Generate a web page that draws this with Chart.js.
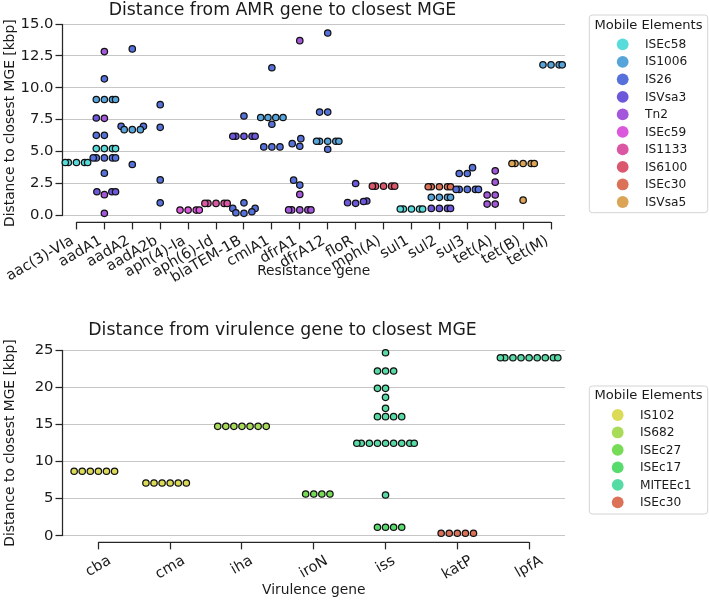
<!DOCTYPE html>
<html><head><meta charset="utf-8">
<script src="https://cdn.jsdelivr.net/npm/chart.js@4.4.1/dist/chart.umd.min.js"></script>
<style>
html,body{margin:0;padding:0;background:#fff;}
#wrap{position:relative;width:709px;height:603px;overflow:hidden;background:#fff;}
.box{position:absolute;left:0;width:709px;}
</style></head><body>
<div id="wrap">
  <div class="box" style="top:0;height:290px"><canvas id="amr" width="709" height="290"></canvas></div>
  <div class="box" style="top:290px;height:313px"><canvas id="vir" width="709" height="313"></canvas></div>
</div>
<script>
// ---------------- DATA ----------------
const amrGenes = ['aac(3)-VIa','aadA1','aadA2','aadA2b','aph(4)-Ia','aph(6)-Id','blaTEM-1B','cmlA1','dfrA1','dfrA12','floR','mph(A)','sul1','sul2','sul3','tet(A)','tet(B)','tet(M)'];
const amrYTicks = [0, 2.5, 5, 7.5, 10, 12.5, 15];
const amrMGEs = ['ISEc58','IS1006','IS26','ISVsa3','Tn2','ISEc59','IS1133','IS6100','ISEc30','ISVsa5'];

// distance (kbp) per gene, for each mobile element
const amr_ISEc58 = {'aac(3)-VIa':[4.13,4.13,4.13,4.13,4.13], 'aadA1':[5.22,5.22,5.22,5.22], 'sul1':[0.47,0.47,0.47,0.47,0.47]};
const amr_IS1006 = {'aadA1':[9.08,9.08,9.08,9.08], 'aadA2':[6.71,6.71,6.71], 'cmlA1':[7.66,7.66,7.66,7.66], 'dfrA12':[5.8,5.8,5.8,5.8,5.8], 'sul2':[1.39,1.39,1.39,1.39], 'tet(M)':[11.8,11.8,11.8,11.8]};
const amr_IS26 = {'aadA1':[10.7,6.26,6.26,4.49,4.49,4.49,4.49,4.49,3.29], 'aadA2':[13.05,6.97,6.97,3.97], 'aadA2b':[8.67,6.89,2.76,0.96], 'blaTEM-1B':[7.78,0.96,0.52,0.52,0.26,0.18,0.13], 'cmlA1':[11.57,7.13,5.35,5.35,5.35], 'dfrA1':[6.0,5.61,5.4,2.74,2.35], 'dfrA12':[14.3,8.09,8.09,5.17], 'sul3':[3.72,3.26,3.26,2.01,2.01,2.01,2.01,2.01]};
const amr_ISVsa3 = {'aadA1':[7.62,1.83,1.83,1.83], 'blaTEM-1B':[6.19,6.19,6.19,6.19,6.19], 'floR':[2.48,1.1,1.06,0.97,0.92], 'sul2':[0.52,0.52,0.52,0.52]};
const amr_Tn2 = {'aadA1':[12.84,7.6,1.6,0.13], 'dfrA1':[13.7,1.62,0.4,0.4,0.4,0.4,0.4], 'tet(A)':[3.47,2.58,1.57,1.57,0.86,0.86]};
const amr_ISEc59 = {'aph(4)-Ia':[0.39,0.39,0.39,0.39]};
const amr_IS1133 = {'aph(6)-Id':[0.91,0.91,0.91,0.91,0.91]};
const amr_IS6100 = {'mph(A)':[2.27,2.27,2.27,2.27,2.27]};
const amr_ISEc30 = {'sul2':[2.22,2.22,2.22,2.22,2.22]};
const amr_ISVsa5 = {'tet(B)':[4.05,4.05,4.05,4.05,4.05,1.17]};

const virGenes = ['cba','cma','iha','iroN','iss','katP','lpfA'];
const virYTicks = [0, 5, 10, 15, 20, 25];
const virMGEs = ['IS102','IS682','ISEc27','ISEc17','MITEEc1','ISEc30'];
const vir_IS102 = {'cba':[8.67,8.67,8.67,8.67,8.67,8.67], 'cma':[7.09,7.09,7.09,7.09,7.09,7.09]};
const vir_IS682 = {'iha':[14.72,14.72,14.72,14.72,14.72,14.72,14.72]};
const vir_ISEc27 = {'iroN':[5.61,5.61,5.61,5.61]};
const vir_ISEc17 = {'iss':[1.13,1.13,1.13,1.13]};
const vir_MITEEc1 = {'iss':[24.63,22.17,22.17,22.17,19.84,19.84,18.63,17.15,16.02,16.02,16.02,16.02,12.44,12.44,12.44,12.44,12.44,12.44,12.44,12.44,12.44,5.48],
                     'lpfA':[23.96,23.96,23.96,23.96,23.96,23.96,23.96,23.96,23.96]};
const vir_ISEc30 = {'katP':[0.32,0.32,0.32,0.32,0.32]};

// ---------------- STYLE ----------------
const mgeColors = {
  ISEc30:'#db7157', ISVsa5:'#dba457', IS102:'#dbdb57', IS682:'#a8db57', ISEc27:'#76db57',
  ISEc17:'#57db6d', MITEEc1:'#57dba4', ISEc58:'#57dbdb', IS1006:'#57a4db', IS26:'#5771db',
  ISVsa3:'#6d57db', Tn2:'#a457db', ISEc59:'#db57db', IS1133:'#db57a4', IS6100:'#db576d'
};
const FONT = '"DejaVu Sans", sans-serif';
const TEXT = '#1a1a1a';
const SPINE = '#262626';
const GRID = '#c6c6c6';
const TICK_SIZE = 14.8;
Chart.defaults.font.family = FONT;
Chart.defaults.color = TEXT;

const amrTable = {ISEc58:amr_ISEc58, IS1006:amr_IS1006, IS26:amr_IS26, ISVsa3:amr_ISVsa3, Tn2:amr_Tn2, ISEc59:amr_ISEc59, IS1133:amr_IS1133, IS6100:amr_IS6100, ISEc30:amr_ISEc30, ISVsa5:amr_ISVsa5};
const virTable = {IS102:vir_IS102, IS682:vir_IS682, ISEc27:vir_ISEc27, ISEc17:vir_ISEc17, MITEEc1:vir_MITEEc1, ISEc30:vir_ISEc30};

function buildDatasets(mges, table, genes) {
  return mges.map(m => {
    const pts = [];
    Object.entries(table[m]).forEach(([gene, vals]) => {
      const ci = genes.indexOf(gene);
      vals.forEach(v => pts.push({x: ci, y: v, cat: ci}));
    });
    return {label: m, data: pts, backgroundColor: mgeColors[m], borderColor: '#111',
            borderWidth: 1.25, pointRadius: 3.2, pointHoverRadius: 3.2, clip: false};
  });
}

// seaborn-like beeswarm placement, computed in pixel space through the chart's scales
function applySwarm(chart, r, widthFrac) {
  const xs = chart.scales.x, ys = chart.scales.y;
  const pxPerCat = Math.abs(xs.getPixelForValue(1) - xs.getPixelForValue(0));
  const groups = {};
  chart.data.datasets.forEach((ds, di) => ds.data.forEach((p, pi) => {
    (groups[p.cat] = groups[p.cat] || []).push({di, pi, v: p.y, py: -ys.getPixelForValue(p.y)});
  }));
  const d2 = 4 * r * r;
  Object.keys(groups).forEach(cat => {
    const pts = groups[cat].slice().sort((a, b) => a.py - b.py);
    const swarm = [];
    pts.forEach(p => {
      const yi = p.py;
      const neighbors = [];
      for (let k = swarm.length - 1; k >= 0; k--) {
        if (yi - swarm[k].y < 2 * r) neighbors.push(swarm[k]); else break;
      }
      let chosen = 0;
      if (neighbors.length) {
        const cands = [0];
        let leftFirst = true;
        neighbors.forEach(nb => {
          const dy = yi - nb.y;
          const dx = Math.sqrt(Math.max(d2 - dy * dy, 0)) * 1.05;
          if (leftFirst) cands.push(nb.x - dx, nb.x + dx); else cands.push(nb.x + dx, nb.x - dx);
          leftFirst = !leftFirst;
        });
        const sorted = cands.map((c, i) => [Math.abs(c), i, c]).sort((a, b) => (a[0] - b[0]) || (a[1] - b[1]));
        for (const s of sorted) {
          const c = s[2];
          let ok = true;
          for (const nb of neighbors) {
            const dx = nb.x - c, dy = nb.y - yi;
            if (dx * dx + dy * dy < d2 - 1e-9) { ok = false; break; }
          }
          if (ok) { chosen = c; break; }
        }
      }
      swarm.push({x: chosen, y: yi, p});
    });
    const half = widthFrac / 2 * pxPerCat;
    swarm.forEach(s => {
      const off = Math.max(-half, Math.min(half, s.x));
      chart.data.datasets[s.p.di].data[s.p.pi].x = Number(cat) + off / pxPerCat;
    });
  });
  chart.update('none');
}

const trimSpines = {
  id: 'trimSpines',
  beforeDatasetsDraw(chart) {
    const {ctx, chartArea, scales: {x, y}} = chart;
    ctx.save();
    ctx.strokeStyle = SPINE; ctx.lineWidth = 1.25; ctx.lineCap = 'butt';
    ctx.beginPath();
    ctx.moveTo(chartArea.left, y.getPixelForValue(y.ticks[0].value));
    ctx.lineTo(chartArea.left, y.getPixelForValue(y.ticks[y.ticks.length - 1].value));
    ctx.moveTo(x.getPixelForValue(x.ticks[0].value), chartArea.bottom);
    ctx.lineTo(x.getPixelForValue(x.ticks[x.ticks.length - 1].value), chartArea.bottom);
    ctx.stroke();
    ctx.restore();
  }
};

// rotated category labels, aligned like matplotlib (bbox right- or center-aligned on the tick)
const xTickLabels = {
  id: 'xTickLabels',
  afterDraw(chart, args, o) {
    const {ctx, chartArea, scales: {x}} = chart;
    const th = o.rotation * Math.PI / 180, c = Math.cos(th), s = Math.sin(th);
    ctx.save();
    ctx.font = o.size + 'px ' + FONT; ctx.fillStyle = TEXT;
    ctx.textAlign = 'center'; ctx.textBaseline = 'alphabetic';
    const h = o.size;
    const y0 = chartArea.bottom + o.offset;
    x.ticks.forEach(t => {
      const label = o.labels[t.value];
      const w = ctx.measureText(label).width;
      const W = w * c + h * s, H = w * s + h * c;
      const px = x.getPixelForValue(t.value);
      const cx = o.align === 'right' ? px - W / 2 : px;
      const cy = y0 + H / 2;
      ctx.save(); ctx.translate(cx, cy); ctx.rotate(-th);
      ctx.fillText(label, 0, 0.26 * o.size);
      ctx.restore();
    });
    ctx.restore();
  }
};

const mgeLegend = {
  id: 'mgeLegend',
  afterDraw(chart, args, o) {
    const ctx = chart.ctx;
    ctx.save();
    const rr = 3, L = o.left, T = o.top, W = o.width, H = o.height;
    ctx.beginPath();
    ctx.moveTo(L + rr, T); ctx.lineTo(L + W - rr, T); ctx.arcTo(L + W, T, L + W, T + rr, rr);
    ctx.lineTo(L + W, T + H - rr); ctx.arcTo(L + W, T + H, L + W - rr, T + H, rr);
    ctx.lineTo(L + rr, T + H); ctx.arcTo(L, T + H, L, T + H - rr, rr);
    ctx.lineTo(L, T + rr); ctx.arcTo(L, T, L + rr, T, rr); ctx.closePath();
    ctx.fillStyle = 'rgba(255,255,255,0.85)'; ctx.fill();
    ctx.strokeStyle = '#d4d4d4'; ctx.lineWidth = 1; ctx.stroke();
    ctx.fillStyle = TEXT; ctx.textBaseline = 'middle';
    ctx.font = o.titleSize + 'px ' + FONT; ctx.textAlign = 'center';
    ctx.fillText(o.title, L + W / 2, o.titleY);
    ctx.font = o.itemSize + 'px ' + FONT; ctx.textAlign = 'left';
    chart.data.datasets.forEach((ds, i) => {
      const yy = o.firstY + i * o.step;
      ctx.beginPath(); ctx.arc(o.markerX, yy, o.markerR, 0, Math.PI * 2);
      ctx.fillStyle = ds.backgroundColor; ctx.fill();
      ctx.fillStyle = TEXT; ctx.fillText(ds.label, o.textX, yy + 0.5);
    });
    ctx.restore();
  }
};

function makeChart(id, g) {
  const chart = new Chart(document.getElementById(id), {
    type: 'scatter',
    data: {datasets: buildDatasets(g.mges, g.table, g.genes)},
    options: {
      responsive: false, animation: false, events: [],
      layout: {padding: {left: 0, right: 144, top: 0, bottom: g.padBottom}},
      plugins: {
        legend: {display: false},
        tooltip: {enabled: false},
        title: {display: true, text: g.title, color: TEXT,
                font: {family: FONT, size: 17.3, weight: 'normal', lineHeight: 1},
                padding: {top: g.titlePadTop, bottom: g.titlePadBottom}},
        mgeLegend: g.legend,
        xTickLabels: {labels: g.genes, align: g.labelAlign, rotation: 30, size: TICK_SIZE, offset: 11}
      },
      scales: {
        x: {
          type: 'linear', min: -0.5, max: g.genes.length - 0.5,
          afterBuildTicks: s => { s.ticks = g.genes.map((_, i) => ({value: i})); },
          ticks: {display: false, autoSkip: false, callback: v => g.genes[v]},
          grid: {drawOnChartArea: false, drawTicks: true, tickLength: 7, tickColor: SPINE, tickWidth: 1.25},
          border: {display: false},
          title: {display: true, text: g.xTitle, color: TEXT, font: {family: FONT, size: 13.8, lineHeight: 1}, padding: 0},
          afterFit: s => { s.height = g.xAxisHeight; }
        },
        y: {
          min: g.yMin, max: g.yMax,
          afterBuildTicks: s => { s.ticks = g.yTicks.map(v => ({value: v})); },
          ticks: {padding: 2, color: TEXT, font: {family: FONT, size: TICK_SIZE}, callback: g.yFmt},
          grid: {color: GRID, lineWidth: 1, drawTicks: true, tickLength: 7, tickColor: SPINE, tickWidth: 1.25},
          border: {display: false},
          title: {display: true, text: 'Distance to closest MGE [kbp]', color: TEXT,
                  font: {family: FONT, size: 13.8, lineHeight: 1}, padding: {top: 3.1, bottom: 0}},
          afterFit: s => { s.width = 62.5; }
        }
      }
    },
    plugins: [trimSpines, mgeLegend, xTickLabels]
  });
  applySwarm(chart, 3.85, 0.8);
  return chart;
}

makeChart('amr', {
  mges: amrMGEs, table: amrTable, genes: amrGenes, yTicks: amrYTicks,
  yMin: -0.58, yMax: 15.01, yFmt: v => v.toFixed(1), labelAlign: 'right',
  title: 'Distance from AMR gene to closest MGE', titlePadTop: 2.0, titlePadBottom: 4.7,
  xTitle: 'Resistance gene', xAxisHeight: 55.6, padBottom: 12,
  legend: {left: 589.3, top: 15, width: 118.4, height: 197.7, title: 'Mobile Elements', titleSize: 13.1, titleY: 25.7,
           itemSize: 12.2, firstY: 44.3, step: 17.52, markerX: 622.7, markerR: 5.9, textX: 645}
});

makeChart('vir', {
  mges: virMGEs, table: virTable, genes: virGenes, yTicks: virYTicks,
  yMin: -0.9, yMax: 25.85, yFmt: v => String(v), labelAlign: 'center',
  title: 'Distance from virulence gene to closest MGE', titlePadTop: 32.0, titlePadBottom: 4.4,
  xTitle: 'Virulence gene', xAxisHeight: 54.55, padBottom: 6.1,
  legend: {left: 589.3, top: 96, width: 118.4, height: 128, title: 'Mobile Elements', titleSize: 13.1, titleY: 106,
           itemSize: 12.2, firstY: 125, step: 17.46, markerX: 617.7, markerR: 5.9, textX: 640}
});
</script>
</body></html>
